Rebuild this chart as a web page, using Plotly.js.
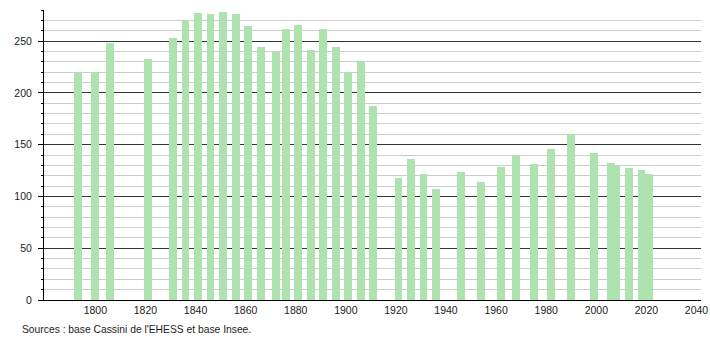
<!DOCTYPE html>
<html>
<head>
<meta charset="utf-8">
<script src="https://cdn.plot.ly/plotly-3.0.1.min.js"></script>
<style>html,body{margin:0;padding:0;background:#fff;}#chart{width:710px;height:340px;}</style>
</head>
<body>
<div id="chart"></div>
<script>
const years = [1793, 1800, 1806, 1821, 1831, 1836, 1841, 1846, 1851, 1856, 1861, 1866, 1872, 1876, 1881, 1886, 1891, 1896, 1901, 1906, 1911, 1921, 1926, 1931, 1936, 1946, 1954, 1962, 1968, 1975, 1982, 1990, 1999, 2006, 2008, 2013, 2018, 2021];
const population = [220, 220, 248, 233, 253, 270, 277, 276, 278, 276, 265, 244, 239, 262, 266, 241, 262, 244, 220, 231, 187, 118, 136, 122, 107, 124, 114, 128, 139, 131, 146, 160, 142, 132, 129, 127, 126, 122];
const xTickVals = [1800, 1820, 1840, 1860, 1880, 1900, 1920, 1940, 1960, 1980, 2000, 2020, 2040];
const xTickText = ["1800", "1820", "1840", "1860", "1880", "1900", "1920", "1940", "1960", "1980", "2000", "2020", "2040"];
const sourceText = "Sources : base Cassini de l'EHESS et base Insee.";

const font = {family: "Liberation Sans, Arial, sans-serif", size: 10.5, color: "#222"};

Plotly.newPlot("chart", [{
  type: "bar",
  x: years,
  y: population,
  width: 3.1,
  marker: {color: "rgb(174,226,174)", line: {width: 0}},
  hoverinfo: "x+y"
}], {
  width: 710,
  height: 340,
  margin: {l: 44, r: 9, t: 10, b: 40},
  paper_bgcolor: "#fff",
  plot_bgcolor: "#fff",
  font: font,
  showlegend: false,
  bargap: 0,
  xaxis: {
    range: [1779.5, 2041.8],
    tickvals: xTickVals,
    ticktext: xTickText,
    showgrid: false,
    zeroline: false,
    showline: true,
    linecolor: "#000",
    linewidth: 1,
    ticks: "",
    tickfont: font
  },
  yaxis: {
    range: [0, 280],
    dtick: 50,
    tick0: 0,
    showgrid: true,
    gridcolor: "#333333",
    gridwidth: 1,
    zeroline: false,
    showline: true,
    linecolor: "#000",
    linewidth: 1,
    ticks: "outside",
    ticklen: 5,
    tickcolor: "#000",
    ticklabelstandoff: 4,
    tickfont: font,
    minor: {dtick: 10, showgrid: true, gridcolor: "#cccccc", gridwidth: 1, ticks: "outside", ticklen: 2, tickcolor: "#000"}
  },
  annotations: [{
    text: sourceText,
    xref: "paper", yref: "paper",
    x: -0.0365, y: -0.1,
    xanchor: "left", yanchor: "middle",
    showarrow: false,
    font: {family: "Liberation Sans, Arial, sans-serif", size: 10.3, color: "#222"}
  }]
}, {staticPlot: true});
</script>
</body>
</html>
